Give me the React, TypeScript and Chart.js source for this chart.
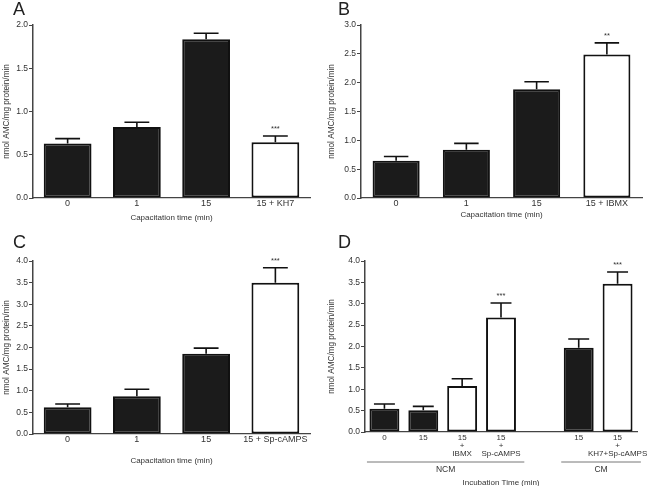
import React, { useEffect, useRef } from "react";
import { Chart, registerables } from "chart.js";
Chart.register(...registerables);

const FONT = "'Liberation Sans', Arial, Helvetica, sans-serif";
Chart.defaults.font.family = FONT;

const yTitle = "nmol AMC/mg protein/min";

// Panel A
const catsA = ["0", "1", "15", "15 + KH7"];
const valsA = [0.63, 0.82, 1.835, 0.645];
const errsA = [0.056, 0.055, 0.07, 0.072];
const starsA = ["", "", "", "***"];

// Panel B
const catsB = ["0", "1", "15", "15 + IBMX"];
const valsB = [0.647, 0.838, 1.885, 2.49];
const errsB = [0.073, 0.11, 0.132, 0.2];
const starsB = ["", "", "", "**"];

// Panel C
const catsC = ["0", "1", "15", "15 + Sp-cAMPS"];
const valsC = [0.618, 0.873, 1.853, 3.498];
const errsC = [0.077, 0.162, 0.132, 0.347];
const starsC = ["", "", "", "***"];

// Panel D
const catsD: (string | string[])[] = [
  "0",
  "15",
  ["15", "+", "IBMX"],
  ["15", "+", "Sp-cAMPS"],
  "",
  "15",
  ["15", "+", "KH7+Sp-cAMPS"],
];
const valsD = [0.545, 0.506, 1.076, 2.68, null, 1.972, 3.469];
const errsD = [0.11, 0.094, 0.171, 0.337, null, 0.203, 0.274];
const starsD = ["", "", "", "***", "", "", "***"];
const groupsD = [
  { label: "NCM", from: 0, to: 3 },
  { label: "CM", from: 5, to: 6 },
];

const DARK = "#1b1b1b";
const EDGE = "#111";
const AXIS = "#444";
const TXT = "#333";

type Cfg = {
  letter: string;
  x: number;
  y: number;
  w: number;
  h: number;
  cats: any[];
  vals: (number | null)[];
  errs: (number | null)[];
  stars: string[];
  open: number[];
  yMax: number;
  yStep: number;
  yWidth: number;
  xHeight: number;
  padTop: number;
  padRight: number;
  barPct: number;
  capRatio: number;
  xTitle: string;
  xTitlePad: number;
  xTickSize: number;
  xTickPad: number;
  groups?: { label: string; from: number; to: number }[];
};

const panels: Cfg[] = [
  {
    letter: "A", x: 0, y: 0, w: 325, h: 243,
    cats: catsA, vals: valsA, errs: errsA, stars: starsA, open: [3],
    yMax: 2.0, yStep: 0.5, yWidth: 33, xHeight: 45, padTop: 25, padRight: 15,
    barPct: 0.69, capRatio: 0.52, xTitle: "Capacitation time (min)", xTitlePad: 21,
    xTickSize: 9, xTickPad: 1.5,
  },
  {
    letter: "B", x: 325, y: 0, w: 325, h: 243,
    cats: catsB, vals: valsB, errs: errsB, stars: starsB, open: [3],
    yMax: 3.0, yStep: 0.5, yWidth: 36, xHeight: 45, padTop: 25, padRight: 8,
    barPct: 0.67, capRatio: 0.52, xTitle: "Capacitation time (min)", xTitlePad: 24,
    xTickSize: 9, xTickPad: 1,
  },
  {
    letter: "C", x: 0, y: 243, w: 325, h: 243,
    cats: catsC, vals: valsC, errs: errsC, stars: starsC, open: [3],
    yMax: 4.0, yStep: 0.5, yWidth: 33, xHeight: 52, padTop: 18, padRight: 15,
    barPct: 0.69, capRatio: 0.52, xTitle: "Capacitation time (min)", xTitlePad: 21,
    xTickSize: 9, xTickPad: 1.5,
  },
  {
    letter: "D", x: 325, y: 243, w: 325, h: 243,
    cats: catsD, vals: valsD, errs: errsD, stars: starsD, open: [2, 3, 6],
    yMax: 4.0, yStep: 0.5, yWidth: 40, xHeight: 54, padTop: 18, padRight: 13,
    barPct: 0.77, capRatio: 0.7, xTitle: "Incubation Time (min)", xTitlePad: -1,
    xTickSize: 8, xTickPad: 1.5, groups: groupsD,
  },
];

function errPlugin(cfg: Cfg) {
  return {
    id: "errbars",
    afterDatasetsDraw(chart: any) {
      const ctx = chart.ctx;
      const meta = chart.getDatasetMeta(0);
      const ys = chart.scales.y;
      cfg.errs.forEach((e, i) => {
        const v = cfg.vals[i];
        const bar = meta.data[i];
        if (e == null || v == null || !bar) return;
        const x = bar.x;
        const yTop = ys.getPixelForValue(v);
        const yErr = ys.getPixelForValue(v + e);
        const hw = (bar.width * cfg.capRatio) / 2;
        ctx.save();
        ctx.strokeStyle = EDGE;
        ctx.lineWidth = 1.6;
        ctx.beginPath();
        ctx.moveTo(x, yTop);
        ctx.lineTo(x, yErr);
        ctx.moveTo(x - hw, yErr);
        ctx.lineTo(x + hw, yErr);
        ctx.stroke();
        const s = cfg.stars[i];
        if (s) {
          ctx.fillStyle = TXT;
          ctx.font = `7.5px ${FONT}`;
          ctx.textAlign = "center";
          ctx.textBaseline = "middle";
          ctx.fillText(s, x, yErr - 7);
        }
        ctx.restore();
      });
    },
  };
}

function groupPlugin(cfg: Cfg) {
  return {
    id: "groups",
    afterDraw(chart: any) {
      if (!cfg.groups) return;
      const ctx = chart.ctx;
      const xs = chart.scales.x;
      const step = xs.getPixelForValue(1) - xs.getPixelForValue(0);
      const yLine = chart.chartArea.bottom + 30;
      ctx.save();
      cfg.groups.forEach((g) => {
        const x1 = xs.getPixelForValue(g.from) - step * 0.45;
        const x2 = xs.getPixelForValue(g.to) + step * 0.6;
        ctx.strokeStyle = "#777";
        ctx.lineWidth = 1;
        ctx.beginPath();
        ctx.moveTo(x1, yLine);
        ctx.lineTo(x2, yLine);
        ctx.stroke();
        ctx.fillStyle = TXT;
        ctx.font = `8.5px ${FONT}`;
        ctx.textAlign = "center";
        ctx.textBaseline = "middle";
        ctx.fillText(g.label, (x1 + x2) / 2, yLine + 7.5);
      });
      ctx.restore();
    },
  };
}

function Panel({ cfg }: { cfg: Cfg }) {
  const ref = useRef<HTMLCanvasElement>(null);
  useEffect(() => {
    const fills = cfg.vals.map((_, i) => (cfg.open.includes(i) ? "#ffffff" : DARK));
    const chart = new Chart(ref.current as HTMLCanvasElement, {
      type: "bar",
      data: {
        labels: cfg.cats,
        datasets: [
          {
            data: cfg.vals as any,
            backgroundColor: fills,
            borderColor: EDGE,
            borderWidth: 2,
            borderSkipped: false,
            categoryPercentage: 1,
            barPercentage: cfg.barPct,
          },
        ],
      },
      options: {
        responsive: false,
        animation: false,
        events: [],
        layout: { padding: { top: cfg.padTop, right: cfg.padRight, left: 0, bottom: 0 } },
        plugins: { legend: { display: false }, tooltip: { enabled: false } },
        scales: {
          x: {
            type: "category",
            offset: true,
            grid: { display: false, drawTicks: false },
            border: { display: true, color: AXIS, width: 1.3 },
            ticks: {
              font: { family: FONT, size: cfg.xTickSize, lineHeight: 1 },
              color: TXT,
              padding: cfg.xTickPad,
              maxRotation: 0,
              minRotation: 0,
              autoSkip: false,
            },
            title: {
              display: true,
              text: cfg.xTitle,
              font: { family: FONT, size: 8, lineHeight: 1.1 },
              color: TXT,
              padding: { top: 0, bottom: cfg.xTitlePad },
            },
            afterFit: (s: any) => {
              s.height = cfg.xHeight;
            },
          },
          y: {
            min: 0,
            max: cfg.yMax,
            ticks: {
              stepSize: cfg.yStep,
              callback: (v: any) => Number(v).toFixed(1),
              font: { family: FONT, size: 8.5 },
              color: TXT,
              padding: 1,
            },
            grid: {
              display: true,
              drawOnChartArea: false,
              drawTicks: true,
              tickLength: 4,
              color: AXIS,
              lineWidth: 1,
            },
            border: { display: true, color: AXIS, width: 1.5 },
            title: {
              display: true,
              text: yTitle,
              font: { family: FONT, size: 8.2, lineHeight: 1.1 },
              color: TXT,
              padding: { top: 2, bottom: 0 },
            },
            afterFit: (s: any) => {
              s.width = cfg.yWidth;
            },
          },
        },
      },
      plugins: [errPlugin(cfg), groupPlugin(cfg)],
    } as any);
    return () => chart.destroy();
  }, []);
  return (
    <>
      <canvas
        ref={ref}
        width={cfg.w}
        height={cfg.h}
        style={{ position: "absolute", left: cfg.x, top: cfg.y, width: cfg.w, height: cfg.h }}
      />
      <div
        style={{
          position: "absolute",
          left: cfg.x + 13,
          top: cfg.y + (cfg.y > 0 ? -10 : 0),
          fontFamily: FONT,
          fontSize: 18,
          lineHeight: "18px",
          color: "#222",
        }}
      >
        {cfg.letter}
      </div>
    </>
  );
}

export default function App() {
  return (
    <div
      style={{
        position: "absolute",
        left: 0,
        top: 0,
        width: 650,
        height: 486,
        background: "#fff",
        overflow: "hidden",
      }}
    >
      {panels.map((p) => (
        <Panel key={p.letter} cfg={p} />
      ))}
    </div>
  );
}
